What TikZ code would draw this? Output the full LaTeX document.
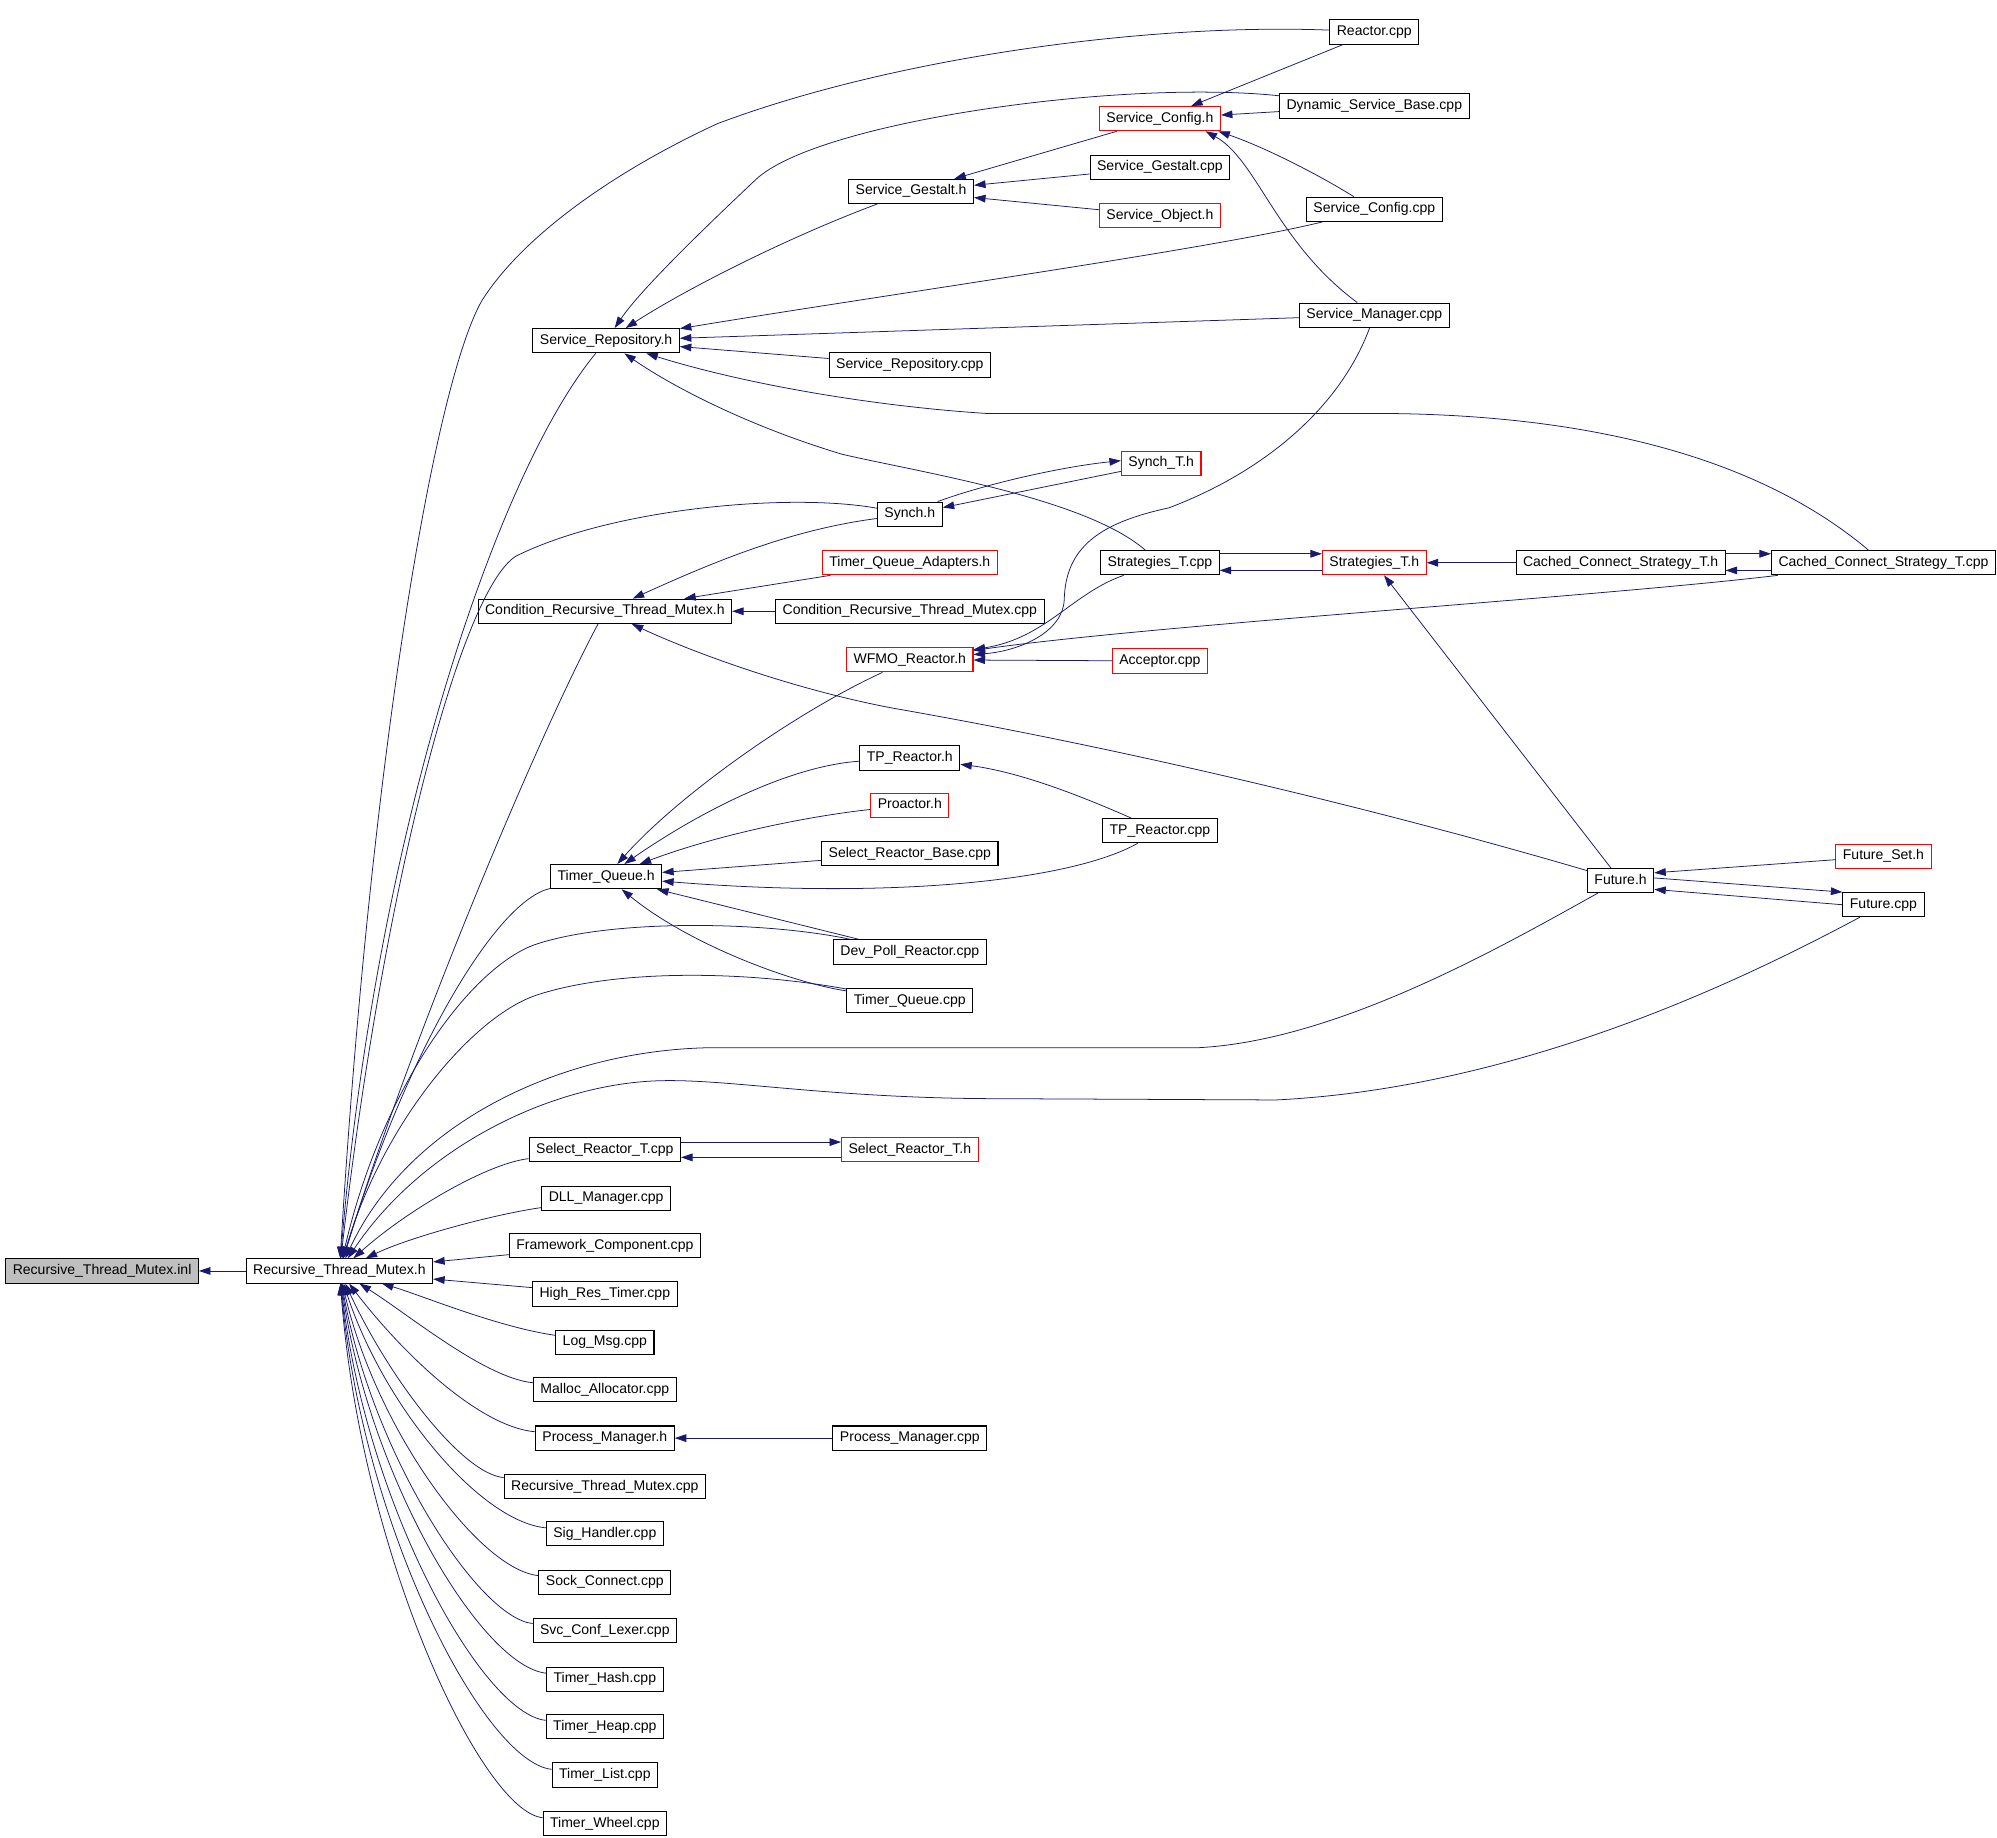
\documentclass[tikz,border=0pt]{standalone}
\usepackage{fontspec}
\newfontfamily\doxfont{Liberation Sans}
\usetikzlibrary{arrows.meta}
\definecolor{edgeblue}{RGB}{25,25,112}
\definecolor{inlgray}{RGB}{191,191,191}
\begin{document}
\begin{tikzpicture}[x=1pt,y=-1pt,
  box/.style={draw=black,line width=0.8pt,rectangle,minimum height=19pt,inner xsep=5.5pt,inner ysep=0pt,text height=8pt,text depth=2.4pt,font=\doxfont\fontsize{11}{13}\selectfont,fill=white},
  redbox/.style={box,draw=red},
  graybox/.style={box,fill=inlgray},
  e/.style={draw=edgeblue,line width=0.6pt,-{Triangle[length=9pt,width=6pt]}}]
\useasboundingbox[fill=white] (0,0) rectangle (1565,1440);

% column 0/1
\node[graybox] (inl) at (80,996) {Recursive\_Thread\_Mutex.inl};
\node[box] (rtmh) at (266,996) {Recursive\_Thread\_Mutex.h};
% column 2
\node[box] (srh) at (475,267) {Service\_Repository.h};
\node[box] (crtm) at (474,479) {Condition\_Recursive\_Thread\_Mutex.h};
\node[box] (tqh) at (475,687) {Timer\_Queue.h};
\node[box] (srtc) at (474,901) {Select\_Reactor\_T.cpp};
\node[box] (dll) at (475,939) {DLL\_Manager.cpp};
\node[box] (fwc) at (474,976) {Framework\_Component.cpp};
\node[box] (hrt) at (474,1014) {High\_Res\_Timer.cpp};
\node[box] (lmc) at (474,1052) {Log\_Msg.cpp};
\node[box] (mac) at (474,1089) {Malloc\_Allocator.cpp};
\node[box] (pmh) at (474,1127) {Process\_Manager.h};
\node[box] (rtmc) at (474,1165) {Recursive\_Thread\_Mutex.cpp};
\node[box] (shc) at (474,1202) {Sig\_Handler.cpp};
\node[box] (scn) at (474,1240) {Sock\_Connect.cpp};
\node[box] (scl) at (474,1278) {Svc\_Conf\_Lexer.cpp};
\node[box] (thash) at (474,1316) {Timer\_Hash.cpp};
\node[box] (theap) at (474,1353) {Timer\_Heap.cpp};
\node[box] (tlist) at (474,1391) {Timer\_List.cpp};
\node[box] (twheel) at (474,1429) {Timer\_Wheel.cpp};
% column 3
\node[box] (sgh) at (714,150) {Service\_Gestalt.h};
\node[box] (src) at (713,286) {Service\_Repository.cpp};
\node[box] (synch) at (713,403) {Synch.h};
\node[redbox] (tqa) at (713,441) {Timer\_Queue\_Adapters.h};
\node[box] (crtmc) at (713,479) {Condition\_Recursive\_Thread\_Mutex.cpp};
\node[redbox] (wfmo) at (713,517) {WFMO\_Reactor.h};
\node[box] (tprh) at (713,594) {TP\_Reactor.h};
\node[redbox] (proh) at (713,631) {Proactor.h};
\node[box] (srbc) at (713,669) {Select\_Reactor\_Base.cpp};
\node[box] (dpr) at (713,746) {Dev\_Poll\_Reactor.cpp};
\node[box] (tqc) at (713,784) {Timer\_Queue.cpp};
\node[redbox] (srth) at (713,901) {Select\_Reactor\_T.h};
\node[box] (pmc) at (713,1127) {Process\_Manager.cpp};
% column 4
\node[redbox] (sch) at (909,93) {Service\_Config.h};
\node[box] (sgc) at (909,131) {Service\_Gestalt.cpp};
\node[redbox] (soh) at (909,169) {Service\_Object.h};
\node[redbox] (syncht) at (910,363) {Synch\_T.h};
\node[box] (stc) at (909,441) {Strategies\_T.cpp};
\node[redbox] (acc) at (909,518) {Acceptor.cpp};
\node[box] (tprc) at (909,651) {TP\_Reactor.cpp};
% column 5
\node[box] (reac) at (1077,25) {Reactor.cpp};
\node[box] (dsb) at (1077,83) {Dynamic\_Service\_Base.cpp};
\node[box] (scc) at (1077,164) {Service\_Config.cpp};
\node[box] (smc) at (1077,247) {Service\_Manager.cpp};
\node[redbox] (sth) at (1077,441) {Strategies\_T.h};
% column 6/7
\node[box] (ccsh) at (1270,441) {Cached\_Connect\_Strategy\_T.h};
\node[box] (futh) at (1270,690) {Future.h};
\node[box] (ccsc) at (1476,441) {Cached\_Connect\_Strategy\_T.cpp};
\node[redbox] (fsh) at (1476,671) {Future\_Set.h};
\node[box] (futc) at (1476,709) {Future.cpp};

% ---- edges into Recursive_Thread_Mutex.h and .inl
\draw[e] (rtmh) -- (inl);
\draw[e] (reac) .. controls (900,18) and (700,45) .. (562,97) .. controls (480,135) and (410,185) .. (378,235) .. controls (340,300) and (290,600) .. (rtmh);
\draw[e] (srh) .. controls (390,370) and (295,650) .. (rtmh);
\draw[e] (synch) .. controls (620,386) and (480,398) .. (404,436) .. controls (360,465) and (300,700) .. (rtmh);
\draw[e] (crtm) .. controls (420,580) and (320,820) .. (rtmh);
\draw[e] (tqh) .. controls (390,705) and (320,820) .. (rtmh);
\draw[e] (dpr) .. controls (600,722) and (480,720) .. (420,740) .. controls (370,757) and (300,850) .. (rtmh);
\draw[e] (tqc) .. controls (580,760) and (480,760) .. (420,780) .. controls (370,797) and (300,880) .. (rtmh);
\draw[e] (futh) .. controls (1180,740) and (1050,815) .. (940,821) -- (560,821) .. controls (440,822) and (320,880) .. (rtmh);
\draw[e] (futc) .. controls (1380,760) and (1200,852) .. (1000,862) -- (784,861) .. controls (650,861) and (570,845) .. (515,847) .. controls (430,850) and (330,900) .. (rtmh);
\draw[e] (srtc) .. controls (380,912) and (316,951) .. (rtmh);
\draw[e] (dll) .. controls (385,952) and (320,970) .. (rtmh);
\draw[e] (fwc) -- (rtmh);
\draw[e] (hrt) -- (rtmh);
\draw[e] (lmc) .. controls (390,1040) and (330,1015) .. (rtmh);
\draw[e] (mac) .. controls (380,1080) and (320,1030) .. (rtmh);
\draw[e] (pmh) .. controls (375,1118) and (315,1060) .. (rtmh);
\draw[e] (rtmc) .. controls (362,1155) and (305,1080) .. (rtmh);
\draw[e] (shc) .. controls (375,1192) and (300,1100) .. (rtmh);
\draw[e] (scn) .. controls (375,1230) and (295,1120) .. (rtmh);
\draw[e] (scl) .. controls (375,1268) and (292,1140) .. (rtmh);
\draw[e] (thash) .. controls (378,1306) and (290,1160) .. (rtmh);
\draw[e] (theap) .. controls (378,1343) and (287,1180) .. (rtmh);
\draw[e] (tlist) .. controls (380,1381) and (285,1200) .. (rtmh);
\draw[e] (twheel) .. controls (378,1420) and (283,1220) .. (rtmh);

% ---- Service_Repository.h
\draw[e] (sgh) .. controls (620,185) and (540,225) .. (srh);
\draw[e] (dsb) .. controls (880,62) and (640,95) .. (592,141) .. controls (540,190) and (500,230) .. (srh);
\draw[e] (scc) .. controls (950,195) and (700,230) .. (srh);
\draw[e] (smc) -- (srh);
\draw[e] (src) -- (srh);
\draw[e] (ccsc) .. controls (1380,360) and (1250,325) .. (1083,324) -- (773,324) .. controls (680,318) and (580,300) .. (srh);
\draw[e] (stc) .. controls (850,390) and (720,370) .. (660,356) .. controls (590,335) and (530,305) .. (srh);

% ---- Service_Gestalt.h / Service_Config.h
\draw[e] (sch) -- (sgh);
\draw[e] (sgc) -- (sgh);
\draw[e] (soh) -- (sgh);
\draw[e] (reac) -- (sch);
\draw[e] (dsb) -- (sch);
\draw[e] (scc) .. controls (1030,135) and (990,115) .. ([xshift=-2pt]sch.south east);
\draw[e] (smc) .. controls (1000,190) and (985,125) .. ([xshift=-12pt]sch.south east);

% ---- Synch.h / Condition
\draw[e] ([xshift=-4pt]synch.north east) .. controls (770,380) and (830,366) .. ([yshift=2pt]syncht.west);
\draw[e] (syncht) -- (synch);
\draw[e] (synch) .. controls (620,415) and (560,440) .. (crtm);
\draw[e] (tqa) -- (crtm);
\draw[e] (crtmc) -- (crtm);
\draw[e] (futh) .. controls (1100,640) and (900,590) .. (700,555) .. controls (620,540) and (540,510) .. (crtm);

% ---- Strategies
\draw[e] ([yshift=7pt]stc.east) -- ([yshift=7pt]sth.west);
\draw[e] ([yshift=-6pt]sth.west) -- ([yshift=-6pt]stc.east);
\draw[e] (ccsh) -- (sth);
\draw[e] ([yshift=7pt]ccsh.east) -- ([yshift=7pt]ccsc.west);
\draw[e] ([yshift=-6pt]ccsc.west) -- ([yshift=-6pt]ccsh.east);
\draw[e] (futh) -- (sth);

% ---- WFMO_Reactor.h
\draw[e] (stc) .. controls (840,465) and (820,500) .. (wfmo);
\draw[e] (smc) .. controls (1050,320) and (990,370) .. (916,398) .. controls (860,410) and (835,430) .. (834,470) .. controls (833,495) and (800,510) .. (wfmo);
\draw[e] (ccsc) .. controls (1250,468) and (900,490) .. (wfmo);
\draw[e] (acc) -- (wfmo);

% ---- Timer_Queue.h
\draw[e] (wfmo) .. controls (620,560) and (530,625) .. (tqh);
\draw[e] (tprh) .. controls (620,600) and (550,635) .. (tqh);
\draw[e] (proh) .. controls (630,640) and (560,655) .. (tqh);
\draw[e] (srbc) -- (tqh);
\draw[e] (tprc) .. controls (840,690) and (700,705) .. (tqh);
\draw[e] (dpr) -- (tqh);
\draw[e] (tqc) .. controls (620,770) and (540,740) .. (tqh);
\draw[e] (tprc) .. controls (850,625) and (800,605) .. (tprh);

% ---- Select_Reactor_T / Process_Manager
\draw[e] ([yshift=6pt]srtc.east) -- ([yshift=6pt]srth.west);
\draw[e] ([yshift=-6pt]srth.west) -- ([yshift=-6pt]srtc.east);
\draw[e] (pmc) -- (pmh);

% ---- Future
\draw[e] (fsh) -- ([yshift=6pt]futh.east);
\draw[e] ([yshift=2pt]futh.east) -- (futc.north west);
\draw[e] (futc.west) -- ([yshift=-7pt]futh.east);
\end{tikzpicture}
\end{document}
